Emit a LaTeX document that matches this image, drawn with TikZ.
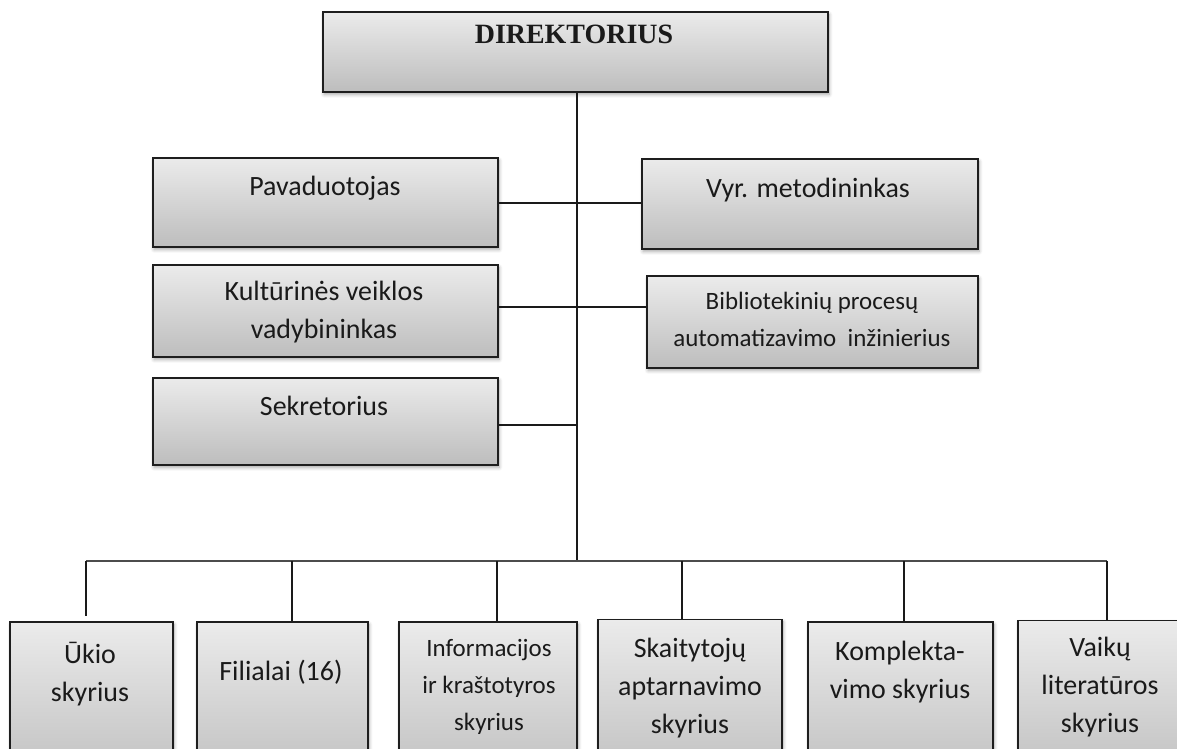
\documentclass[tikz,border=0pt]{standalone}
\usepackage{fontspec}
\setmainfont{Carlito}
\newfontfamily\headfont{Liberation Serif}
\usetikzlibrary{shadows.blur}
\definecolor{edge}{HTML}{1E1E1E}
\definecolor{ink}{HTML}{1A1A1A}
\definecolor{shadetop}{HTML}{EBEBEB}
\definecolor{shadebot}{HTML}{BDBDBD}
\begin{document}
\begin{tikzpicture}[x=0.02cm,y=-0.02cm,
  box/.style={draw=edge, line width=1.1pt, top color=shadetop, bottom color=shadebot,
    inner sep=0pt,
    blur shadow={shadow xshift=0.6pt, shadow yshift=-1.4pt, shadow blur steps=6,
      shadow opacity=35, shadow blur radius=2pt}},
  lbl/.style={text=ink, font=\fontsize{15.9}{21.5}\selectfont, align=center,
    inner sep=0pt, anchor=base},
  small/.style={lbl, font=\fontsize{14.2}{20.8}\selectfont},
  wire/.style={draw=ink, line width=0.9pt},
  bus/.style={draw=gray!60!black, line width=1.3pt}]

\useasboundingbox (0,0) rectangle (1177,748);
\clip (0,0) rectangle (1177,748);

% junction points on the trunk and the bus
\coordinate (trunk) at (577,561);
\coordinate (j1) at (577,203);
\coordinate (j2) at (577,307);
\coordinate (j3) at (577,425);
\coordinate (busL) at (86,561);
\coordinate (busR) at (1107,561);
\coordinate (d1) at (86,561);
\coordinate (d2) at (292,561);
\coordinate (d3) at (497,561);
\coordinate (d4) at (682,561);
\coordinate (d5) at (904,561);
\coordinate (d6) at (1107,561);

% management boxes
\node[box, minimum width=10.1cm, minimum height=1.6cm] (dir) at (575.5,52) {};
\node[box, minimum width=6.9cm, minimum height=1.78cm] (pav) at (325.5,202.5) {};
\node[box, minimum width=6.72cm, minimum height=1.8cm] (vyr) at (810,204) {};
\node[box, minimum width=6.9cm, minimum height=1.84cm] (kul) at (325.5,311) {};
\node[box, minimum width=6.62cm, minimum height=1.84cm] (bib) at (812.5,322) {};
\node[box, minimum width=6.9cm, minimum height=1.74cm] (sek) at (325.5,421.5) {};

% departments
\node[box, minimum width=3.26cm, minimum height=3.36cm] (ukio) at (91.5,706) {};
\node[box, minimum width=3.42cm, minimum height=3.36cm] (fil) at (282.5,706) {};
\node[box, minimum width=3.56cm, minimum height=3.36cm] (inf) at (488,706) {};
\node[box, minimum width=3.68cm, minimum height=3.42cm] (ska) at (690,705) {};
\node[box, minimum width=3.70cm, minimum height=3.36cm] (kom) at (900.5,706) {};
\node[box, minimum width=3.44cm, minimum height=3.38cm] (vai) at (1104,705) {};

% connectors
\draw[wire] (dir.south -| trunk) -- (trunk);
\draw[wire] (pav.east |- j1) -- (vyr.west |- j1);
\draw[wire] (kul.east |- j2) -- (bib.west |- j2);
\draw[wire] (sek.east |- j3) -- (j3);
\draw[bus] (busL) -- (busR);
\draw[wire, shorten >=3pt] (d1) -- (d1 |- ukio.north);
\draw[wire] (d2) -- (d2 |- fil.north);
\draw[wire] (d3) -- (d3 |- inf.north);
\draw[wire] (d4) -- (d4 |- ska.north);
\draw[wire] (d5) -- (d5 |- kom.north);
\draw[wire] (d6) -- (d6 |- vai.north);

% labels (multi-line labels are placed by the baseline of their last line)
\node[lbl, font=\headfont\bfseries\fontsize{15.9}{19}\selectfont] (tdir) at (574,43) {DIREKTORIUS};
\node[lbl] (tpav) at (325,195) {Pavaduotojas};
\node[lbl] (tvyr) at (808,197) {Vyr. metodininkas};
\node[lbl] (tkul) at (324,338) {Kultūrinės veiklos\\vadybininkas};
\node[small] (tbib) at (812,346) {Bibliotekinių procesų\\automatizavimo\ \ inžinierius};
\node[lbl] (tsek) at (324,415) {Sekretorius};
\node[lbl] (tukio) at (90,701) {Ūkio\\skyrius};
\node[lbl] (tfil) at (281,680) {Filialai (16)};
\node[small] (tinf) at (489,730) {Informacijos\\ir kraštotyros\\skyrius};
\node[lbl] (tska) at (690,733) {Skaitytojų\\aptarnavimo\\skyrius};
\node[lbl] (tkom) at (900,698) {Komplekta-\\vimo skyrius};
\node[lbl] (tvai) at (1100,732) {Vaikų\\literatūros\\skyrius};
\end{tikzpicture}
\end{document}
